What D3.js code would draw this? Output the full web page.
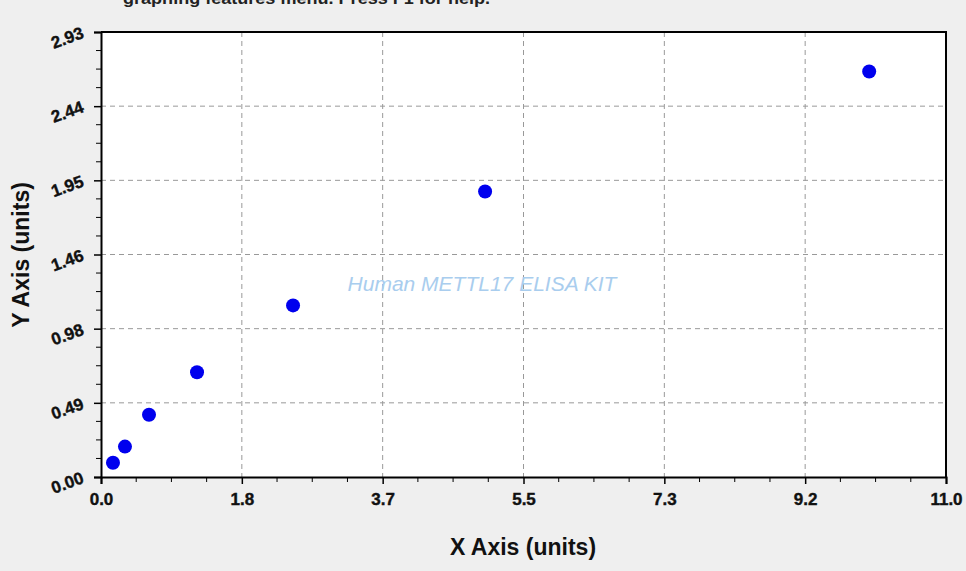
<!DOCTYPE html>
<html>
<head>
<meta charset="utf-8">
<style>
	* { margin: 0; padding: 0; }
	body { background: #efefef; width: 966px; height: 571px; overflow: hidden; }
	svg { display: block; }
	text { font-family: "Liberation Sans", Arial, sans-serif; }
</style>
<script src="https://cdn.jsdelivr.net/npm/d3@7"></script>
</head>
<body>
<svg id="chart" width="966" height="571"></svg>
<script>
// standard curve points
var xValues = [0.156, 0.312, 0.625, 1.25, 2.5, 5, 10];
var yValues = [0.094, 0.20, 0.41, 0.69, 1.13, 1.88, 2.67];
var xTicks = [0, 11/6, 22/6, 33/6, 44/6, 55/6, 11];
var xTickLabels = ["0.0", "1.8", "3.7", "5.5", "7.3", "9.2", "11.0"];
var yTicks = [0, 2.93/6, 2*2.93/6, 3*2.93/6, 4*2.93/6, 5*2.93/6, 2.93];
var yTickLabels = ["0.00", "0.49", "0.98", "1.46", "1.95", "2.44", "2.93"];

var svg = d3.select("#chart");
// plot box edges (window.top is taken, so prefixed names)
var pLeft = 101, pRight = 946, pTop = 32, pBottom = 477;

var x = d3.scaleLinear().domain([0, 11]).range([pLeft, pRight]);
var y = d3.scaleLinear().domain([0, 2.93]).range([pBottom, pTop]);

// header text, mostly cut off at top like the original
svg.append("text")
	.attr("x", 123).attr("y", 4)
	.attr("font-size", 16).attr("font-weight", "bold").attr("fill", "#222")
	.attr("textLength", 367).attr("lengthAdjust", "spacingAndGlyphs")
	.text("graphing features menu. Press F1 for help.");

// plot area
svg.append("rect")
	.attr("x", pLeft).attr("y", pTop)
	.attr("width", pRight - pLeft).attr("height", pBottom - pTop)
	.attr("fill", "#fff");

// grid
svg.append("g").selectAll("line").data(xTicks.slice(1, -1)).join("line")
	.attr("x1", d => x(d)).attr("x2", d => x(d))
	.attr("y1", pTop).attr("y2", pBottom)
	.attr("stroke", "#999").attr("stroke-dasharray", "5,4");
svg.append("g").selectAll("line").data(yTicks.slice(1, -1)).join("line")
	.attr("y1", d => y(d)).attr("y2", d => y(d))
	.attr("x1", pLeft).attr("x2", pRight)
	.attr("stroke", "#999").attr("stroke-dasharray", "5,4");

// minor ticks
var xMinor = d3.range(0, 24).map(i => i * 11 / 24).filter((d, i) => i % 4 != 0);
var yMinor = d3.range(0, 24).map(i => i * 2.93 / 24).filter((d, i) => i % 4 != 0);

// x axis
var xAxis = svg.append("g").attr("transform", "translate(0," + pBottom + ")")
	.call(d3.axisBottom(x).tickValues(xTicks).tickSize(7).tickPadding(9)
		.tickFormat((d, i) => xTickLabels[i]));
xAxis.append("g").selectAll("line").data(xMinor).join("line")
	.attr("x1", d => x(d)).attr("x2", d => x(d)).attr("y1", 0).attr("y2", 5)
	.attr("stroke", "#000");

// y axis
var yAxis = svg.append("g").attr("transform", "translate(" + pLeft + ",0)")
	.call(d3.axisLeft(y).tickValues(yTicks).tickSize(7).tickPadding(11)
		.tickFormat((d, i) => yTickLabels[i]));
yAxis.append("g").selectAll("line").data(yMinor).join("line")
	.attr("y1", d => y(d)).attr("y2", d => y(d)).attr("x1", 0).attr("x2", -5)
	.attr("stroke", "#000");

[xAxis, yAxis].forEach(function(a) {
	a.select(".domain").attr("stroke", "#000").attr("stroke-width", 2);
	a.selectAll(".tick line").attr("stroke", "#000").attr("stroke-width", 1.5);
	a.selectAll(".tick text")
		.attr("font-family", "'Liberation Sans', Arial, sans-serif")
		.attr("font-size", 17).attr("font-weight", "bold").attr("fill", "#111")
		.attr("stroke", "#111").attr("stroke-width", 0.4);
});
yAxis.selectAll(".tick text")
	.attr("transform", function() {
		return "rotate(-20," + this.getAttribute("x") + ",0)";
	});

// border top/right
svg.append("path")
	.attr("d", "M" + pLeft + "," + pTop + "H" + pRight + "V" + pBottom)
	.attr("fill", "none").attr("stroke", "#000").attr("stroke-width", 2);

// watermark
svg.append("text")
	.attr("x", 482).attr("y", 291).attr("text-anchor", "middle")
	.attr("font-size", 21).attr("font-style", "italic")
	.attr("fill", "#a9cdee")
	.text("Human METTL17 ELISA KIT");

// points
svg.append("g").selectAll("circle").data(xValues).join("circle")
	.attr("cx", d => x(d)).attr("cy", (d, i) => y(yValues[i]))
	.attr("r", 7).attr("fill", "#0000ee");

// axis titles
svg.append("text")
	.attr("x", 523).attr("y", 555).attr("text-anchor", "middle")
	.attr("font-size", 23).attr("font-weight", "bold").attr("fill", "#111")
	.text("X Axis (units)");
svg.append("text")
	.attr("transform", "translate(29,255) rotate(-90)").attr("text-anchor", "middle")
	.attr("font-size", 23).attr("font-weight", "bold").attr("fill", "#111")
	.text("Y Axis (units)");
</script>
</body>
</html>
